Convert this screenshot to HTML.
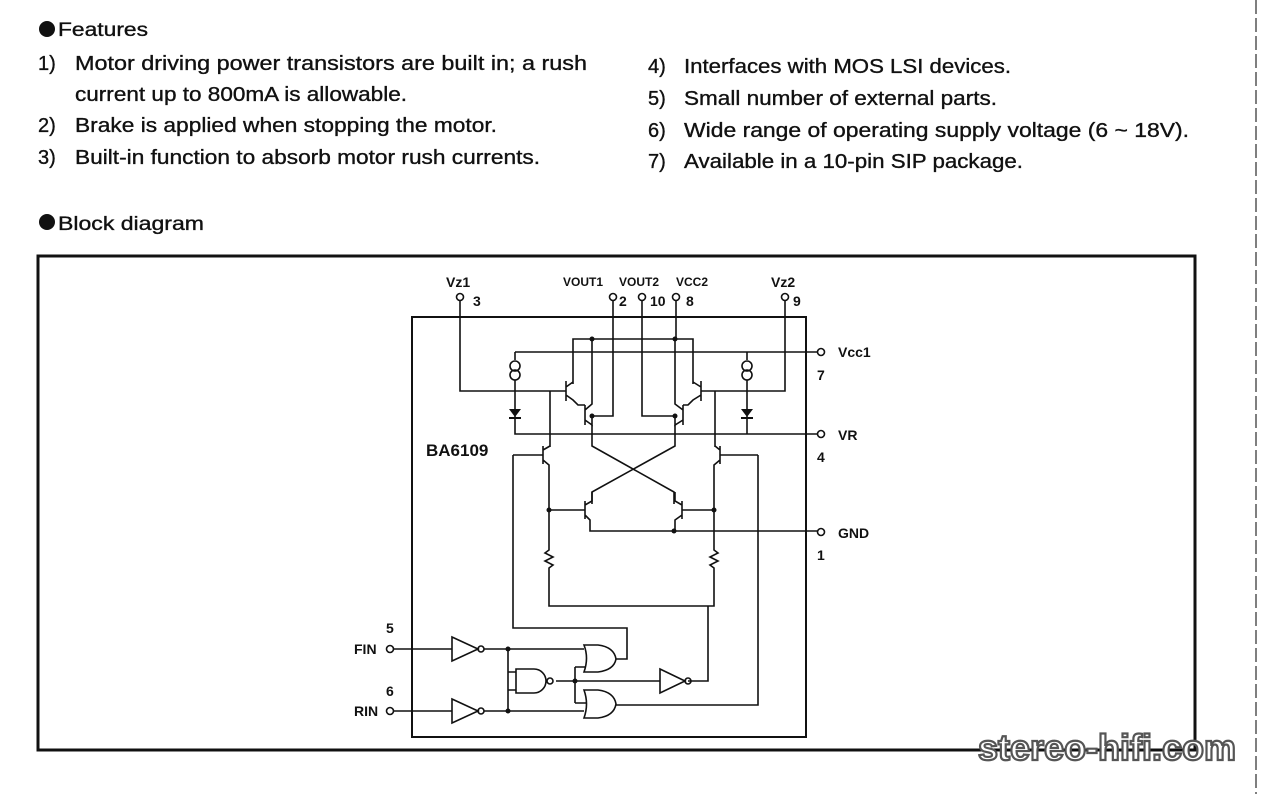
<!DOCTYPE html>
<html><head><meta charset="utf-8"><style>
html,body{margin:0;padding:0;background:#fff;}
svg{display:block;}
text{font-family:"Liberation Sans",Arial,sans-serif;fill:#111;}
.t{stroke:#111;stroke-width:0.35;}
</style></head><body>
<svg width="1273" height="794" viewBox="0 0 1273 794" xmlns="http://www.w3.org/2000/svg">
<rect width="1273" height="794" fill="#fff"/>
<circle cx="47" cy="29" r="8" fill="#111"/>
<text class="t" x="58" y="36" font-size="19" textLength="90" lengthAdjust="spacingAndGlyphs">Features</text>
<g font-size="20" class="t">
<text x="38" y="70">1)</text><text x="75" y="70" textLength="512" lengthAdjust="spacingAndGlyphs">Motor driving power transistors are built in; a rush</text>
<text x="75" y="101" textLength="332" lengthAdjust="spacingAndGlyphs">current up to 800mA is allowable.</text>
<text x="38" y="132">2)</text><text x="75" y="132" textLength="422" lengthAdjust="spacingAndGlyphs">Brake is applied when stopping the motor.</text>
<text x="38" y="164">3)</text><text x="75" y="164" textLength="465" lengthAdjust="spacingAndGlyphs">Built-in function to absorb motor rush currents.</text>
<text x="648" y="73">4)</text><text x="684" y="73" textLength="327" lengthAdjust="spacingAndGlyphs">Interfaces with MOS LSI devices.</text>
<text x="648" y="105">5)</text><text x="684" y="105" textLength="313" lengthAdjust="spacingAndGlyphs">Small number of external parts.</text>
<text x="648" y="137">6)</text><text x="684" y="137" textLength="505" lengthAdjust="spacingAndGlyphs">Wide range of operating supply voltage (6 ~ 18V).</text>
<text x="648" y="168">7)</text><text x="684" y="168" textLength="339" lengthAdjust="spacingAndGlyphs">Available in a 10-pin SIP package.</text>
</g>
<circle cx="47" cy="222" r="8" fill="#111"/>
<text class="t" x="58" y="230" font-size="19" textLength="146" lengthAdjust="spacingAndGlyphs">Block diagram</text>
<line x1="1256" y1="0" x2="1256" y2="794" stroke="#555" stroke-width="1.5" stroke-dasharray="14,4"/>

<rect x="38" y="256" width="1157" height="494" fill="none" stroke="#111" stroke-width="3"/>
<rect x="412" y="317" width="394" height="420" fill="none" stroke="#111" stroke-width="2"/>

<g stroke="#111" stroke-width="1.6" fill="none">
<circle cx="460" cy="297" r="3.5"/><circle cx="613" cy="297" r="3.5"/><circle cx="642" cy="297" r="3.5"/><circle cx="676" cy="297" r="3.5"/><circle cx="785" cy="297" r="3.5"/>
<circle cx="821" cy="352" r="3.5"/><circle cx="821" cy="434" r="3.5"/><circle cx="821" cy="532" r="3.5"/>
<circle cx="390" cy="649" r="3.5"/><circle cx="390" cy="711" r="3.5"/>

<path d="M460 301V391H566"/>
<path d="M785 301V391H701"/>
<path d="M573 384V339H693V384"/>
<path d="M515 352H817"/>
<path d="M613 301V416H592"/>
<path d="M642 301V416H675"/>
<path d="M676 301V339"/>
<path d="M515 352V360"/><circle cx="515" cy="366" r="5"/><circle cx="515" cy="375" r="5"/><path d="M515 380V410"/>
<path d="M747 352V360"/><circle cx="747" cy="366" r="5"/><circle cx="747" cy="375" r="5"/><path d="M747 380V410"/>
<path d="M515 416V434H817"/><path d="M747 416V434"/>
<path d="M566 381V401M566 387L573 382M566 395L573 400L578 405H585"/>
<path d="M585 405V425M585 410L592 404V339M585 420L592 425V416"/>
<path d="M701 381V401M701 387L693 382M701 395L693 400L688 405H683"/>
<path d="M683 405V425M683 410L675 404V339M683 420L675 425V416"/>
<path d="M550 391V447"/><path d="M715 391V447"/>
<path d="M513 455H543M543 446V464M543 450L550 446M543 460L549 465V510"/>
<path d="M758 455H720M720 446V464M720 450L715 446M720 460L714 465V510"/>
<path d="M592 425V446L674 492V504M675 425V446L592 492V504"/>
<path d="M549 510H585M585 501V519M585 505L592 501V492M585 515L590 520V531H817"/>
<path d="M714 510H682M682 501V519M682 505L675 501V492M682 515L675 520V531"/>
<path d="M549 510V550L545 553L553 557L545 561L553 565L549 568V606H714V568L710 565L718 561L710 557L718 553L714 550V510"/>
<path d="M513 455V628H627V659H616"/>
<path d="M708 606V681H688"/>
<path d="M758 455V705H616"/>
<path d="M394 649H452M484 649H584"/>
<path d="M394 711H452M484 711H584"/>
<path d="M508 649V711M508 672H516M508 690H516"/>
<path d="M556 681H660"/>
<path d="M575 667V703M575 667H586M575 703H586"/>
<path d="M452 637L478 649L452 661Z"/><circle cx="481" cy="649" r="3"/>
<path d="M452 699L478 711L452 723Z"/><circle cx="481" cy="711" r="3"/>
<path d="M660 669L685 681L660 693Z"/><circle cx="688" cy="681" r="3"/>
<path d="M516 669H534A12 12 0 0 1 534 693H516Z"/><circle cx="550" cy="681" r="3"/>
<path d="M584 645H598Q614 647 616 659Q614 670 598 672H584Q589 658 584 645Z"/>
<path d="M584 690H598Q614 692 616 704Q614 716 598 718H584Q589 704 584 690Z"/>
</g>
<g fill="#111">
<path d="M509 409H521L515 417Z"/><rect x="509" y="417" width="12" height="2"/>
<path d="M741 409H753L747 417Z"/><rect x="741" y="417" width="12" height="2"/>
<circle cx="592" cy="339" r="2.5"/><circle cx="675" cy="339" r="2.5"/>
<circle cx="592" cy="416" r="2.5"/><circle cx="675" cy="416" r="2.5"/>
<circle cx="549" cy="510" r="2.5"/><circle cx="714" cy="510" r="2.5"/><circle cx="674" cy="531" r="2.5"/>
<circle cx="508" cy="649" r="2.5"/><circle cx="508" cy="711" r="2.5"/><circle cx="575" cy="681" r="2.5"/>
</g>
<g font-size="14" font-weight="bold">
<text x="446" y="287">Vz1</text><text x="473" y="306">3</text>
<text x="563" y="286" font-size="12">VOUT1</text><text x="619" y="286" font-size="12">VOUT2</text><text x="676" y="286" font-size="12">VCC2</text>
<text x="619" y="306">2</text><text x="650" y="306">10</text><text x="686" y="306">8</text>
<text x="771" y="287">Vz2</text><text x="793" y="306">9</text>
<text x="838" y="357">Vcc1</text><text x="817" y="380">7</text>
<text x="838" y="440">VR</text><text x="817" y="462">4</text>
<text x="838" y="538">GND</text><text x="817" y="560">1</text>
<text x="386" y="633">5</text><text x="354" y="654">FIN</text>
<text x="386" y="696">6</text><text x="354" y="716">RIN</text>
<text x="426" y="456" font-size="17">BA6109</text>
</g>
<text x="978" y="760" font-size="36" font-weight="bold" style="fill:#fff;stroke:#555;stroke-width:2.2">stereo-hifi.com</text>
</svg>
</body></html>
